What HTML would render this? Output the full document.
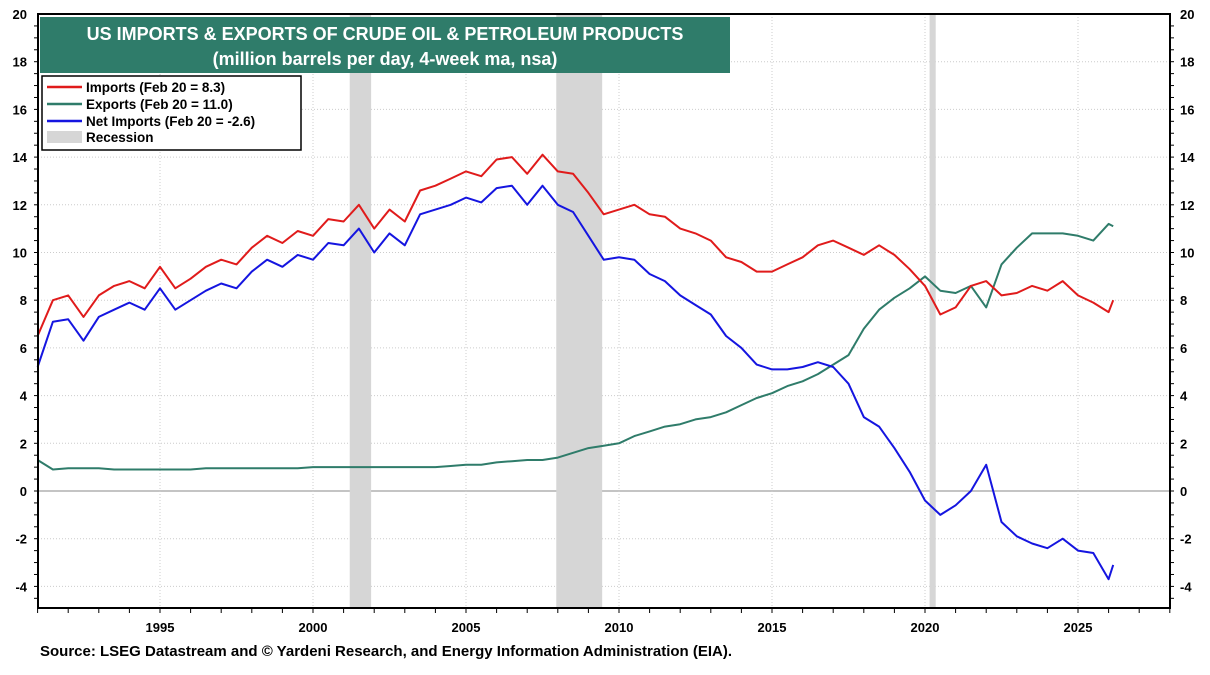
<!DOCTYPE html>
<html><head><meta charset="utf-8"><style>
body{margin:0;background:#fff;font-family:"Liberation Sans",sans-serif;}
</style></head><body>
<svg width="1210" height="670" xmlns="http://www.w3.org/2000/svg" id="chart">
<g id="grid"></g>
<g id="rec"></g>
<g id="series"></g>
<g id="axes"></g>
<rect x="40" y="17" width="690" height="56" fill="#2f7c6a"/>
<text x="385" y="40" text-anchor="middle" fill="#fff" font-weight="bold" font-size="18">US IMPORTS &amp; EXPORTS OF CRUDE OIL &amp; PETROLEUM PRODUCTS</text>
<text x="385" y="65" text-anchor="middle" fill="#fff" font-weight="bold" font-size="18">(million barrels per day, 4-week ma, nsa)</text>
<g>
<rect x="42" y="76" width="259" height="74" fill="#fff" stroke="#000" stroke-width="1.5"/>
<line x1="47" y1="87" x2="82" y2="87" stroke="#e01b1b" stroke-width="2.5"/>
<text x="86" y="92" font-size="13.5" font-weight="bold">Imports  (Feb 20 = 8.3)</text>
<line x1="47" y1="104" x2="82" y2="104" stroke="#2f7c6a" stroke-width="2.5"/>
<text x="86" y="109" font-size="13.5" font-weight="bold">Exports (Feb 20 = 11.0)</text>
<line x1="47" y1="121" x2="82" y2="121" stroke="#1515e0" stroke-width="2.5"/>
<text x="86" y="126" font-size="13.5" font-weight="bold">Net Imports (Feb 20 = -2.6)</text>
<rect x="47" y="131" width="35" height="12" fill="#d6d6d6"/>
<text x="86" y="142" font-size="13.5" font-weight="bold">Recession</text>
</g>
<text x="40" y="656" font-size="15" font-weight="bold">Source: LSEG Datastream and © Yardeni Research, and Energy Information Administration (EIA).</text>
</svg>
<script>
const years=[1991,1991.5,1992,1992.5,1993,1993.5,1994,1994.5,1995,1995.5,1996,1996.5,1997,1997.5,1998,1998.5,1999,1999.5,2000,2000.5,2001,2001.5,2002,2002.5,2003,2003.5,2004,2004.5,2005,2005.5,2006,2006.5,2007,2007.5,2008,2008.5,2009,2009.5,2010,2010.5,2011,2011.5,2012,2012.5,2013,2013.5,2014,2014.5,2015,2015.5,2016,2016.5,2017,2017.5,2018,2018.5,2019,2019.5,2020,2020.5,2021,2021.5,2022,2022.5,2023,2023.5,2024,2024.5,2025,2025.5,2026,2026.15];
const imports=[6.5,8.0,8.2,7.3,8.2,8.6,8.8,8.5,9.4,8.5,8.9,9.4,9.7,9.5,10.2,10.7,10.4,10.9,10.7,11.4,11.3,12.0,11.0,11.8,11.3,12.6,12.8,13.1,13.4,13.2,13.9,14.0,13.3,14.1,13.4,13.3,12.5,11.6,11.8,12.0,11.6,11.5,11.0,10.8,10.5,9.8,9.6,9.2,9.2,9.5,9.8,10.3,10.5,10.2,9.9,10.3,9.9,9.3,8.6,7.4,7.7,8.6,8.8,8.2,8.3,8.6,8.4,8.8,8.2,7.9,7.5,8.0];
const exportsS=[1.3,0.9,0.95,0.95,0.95,0.9,0.9,0.9,0.9,0.9,0.9,0.95,0.95,0.95,0.95,0.95,0.95,0.95,1.0,1.0,1.0,1.0,1.0,1.0,1.0,1.0,1.0,1.05,1.1,1.1,1.2,1.25,1.3,1.3,1.4,1.6,1.8,1.9,2.0,2.3,2.5,2.7,2.8,3.0,3.1,3.3,3.6,3.9,4.1,4.4,4.6,4.9,5.3,5.7,6.8,7.6,8.1,8.5,9.0,8.4,8.3,8.6,7.7,9.5,10.2,10.8,10.8,10.8,10.7,10.5,11.2,11.1];
const netImports=[5.2,7.1,7.2,6.3,7.3,7.6,7.9,7.6,8.5,7.6,8.0,8.4,8.7,8.5,9.2,9.7,9.4,9.9,9.7,10.4,10.3,11.0,10.0,10.8,10.3,11.6,11.8,12.0,12.3,12.1,12.7,12.8,12.0,12.8,12.0,11.7,10.7,9.7,9.8,9.7,9.1,8.8,8.2,7.8,7.4,6.5,6.0,5.3,5.1,5.1,5.2,5.4,5.2,4.5,3.1,2.7,1.8,0.8,-0.4,-1.0,-0.6,0.0,1.1,-1.3,-1.9,-2.2,-2.4,-2.0,-2.5,-2.6,-3.7,-3.1];
const recessions=[[2001.2,2001.9],[2007.95,2009.45],[2020.15,2020.35]];
const yTicks=[-4,-2,0,2,4,6,8,10,12,14,16,18,20];
const xTicks=[1995,2000,2005,2010,2015,2020,2025];
const NS="http://www.w3.org/2000/svg";
const L=38,R=1170,T=14,B=608;
const xs=y=>160+(y-1995)*30.6;
const ys=v=>491-v*23.85;
function mk(tag,attrs,parent){const e=document.createElementNS(NS,tag);for(const k in attrs)e.setAttribute(k,attrs[k]);document.getElementById(parent).appendChild(e);return e;}
yTicks.forEach(v=>{
 const g=mk('line',{x1:L,x2:R,y1:ys(v),y2:ys(v),stroke:v===0?'#888':'#ccc','stroke-width':1,'stroke-dasharray':v===0?'':'1,2'},'grid');
 
 
 const t1=mk('text',{x:L-11,y:ys(v)+5,'text-anchor':'end','font-size':13,'font-weight':'bold'},'axes');t1.textContent=v;
 
 
 const t2=mk('text',{x:R+10,y:ys(v)+5,'text-anchor':'start','font-size':13,'font-weight':'bold'},'axes');t2.textContent=v;
 
 
});
for(let v=-4.5;v<20;v+=0.5){const y=ys(v);mk('line',{x1:L-4,x2:L,y1:y,y2:y,stroke:'#000'},'axes');mk('line',{x1:R,x2:R+4,y1:y,y2:y,stroke:'#000'},'axes');}
xTicks.forEach(v=>{
 const g=mk('line',{x1:xs(v),x2:xs(v),y1:T,y2:B,stroke:'#ccc','stroke-dasharray':'1,2'},'grid');
 
 
 const t=mk('text',{x:xs(v),y:632,'text-anchor':'middle','font-size':13,'font-weight':'bold'},'axes');t.textContent=v;
 
 
});
for(let y=1991;y<=2028;y++){mk('line',{x1:xs(y),x2:xs(y),y1:B,y2:B+5,stroke:'#000'},'axes');}
recessions.forEach(r=>{
 const e=mk('rect',{x:xs(r[0]),y:T,width:xs(r[1])-xs(r[0]),height:B-T,fill:'#d6d6d6'},'rec');
 
 
});
const box=mk('rect',{x:L,y:T,width:R-L,height:B-T,fill:'none',stroke:'#000','stroke-width':2},'axes');


function line(vals,color,name){
 const d=vals.map((v,i)=>(i?'L':'M')+xs(years[i]).toFixed(1)+','+ys(v).toFixed(1)).join('');
 const p=mk('path',{d:d,fill:'none',stroke:color,'stroke-width':2,'stroke-linejoin':'round'},'series');
 
 
}
line(exportsS,'#2f7c6a','exports-line');
line(imports,'#e01b1b','imports-line');
line(netImports,'#1515e0','net-imports-line');
</script>
</body></html>
